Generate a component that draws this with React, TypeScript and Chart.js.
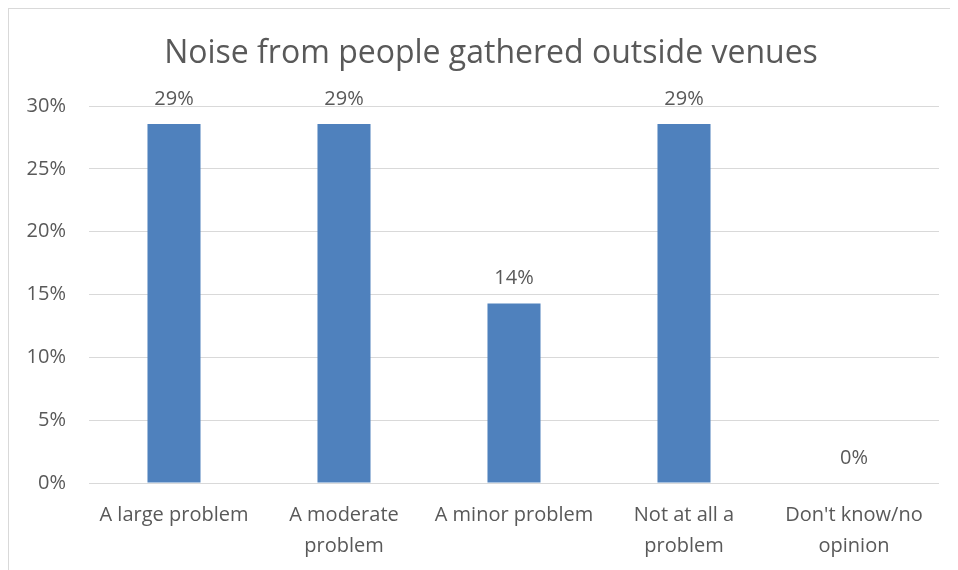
import React, { useEffect, useRef } from "react";
import { Chart, registerables } from "chart.js";

Chart.register(...registerables);

const title = "Noise from people gathered outside venues";
const categories: (string | string[])[] = [
  "A large problem",
  ["A moderate", "problem"],
  "A minor problem",
  ["Not at all a", "problem"],
  ["Don't know/no", "opinion"],
];
const values = [28.57, 28.57, 14.29, 28.57, 0];
const valueLabels = ["29%", "29%", "14%", "29%", "0%"];
const yTicks = [0, 5, 10, 15, 20, 25, 30];

const FONT = "'Open Sans', sans-serif";
const TEXT = "#595959";
const GRID = "#d9d9d9";
const BAR = "#4f81bd";

const dataLabelPlugin = {
  id: "dataLabels",
  afterDatasetsDraw(chart: any) {
    const ctx = chart.ctx;
    const meta = chart.getDatasetMeta(0);
    ctx.save();
    ctx.font = `20px ${FONT}`;
    ctx.fillStyle = TEXT;
    ctx.textAlign = "center";
    ctx.textBaseline = "alphabetic";
    meta.data.forEach((el: any, i: number) => {
      ctx.fillText(valueLabels[i], el.x, el.y - 19);
    });
    ctx.restore();
  },
};

const titlePlugin = {
  id: "customTitle",
  afterDraw(chart: any) {
    const ctx = chart.ctx;
    ctx.save();
    ctx.font = `32px ${FONT}`;
    ctx.fillStyle = TEXT;
    ctx.textAlign = "center";
    ctx.textBaseline = "middle";
    ctx.fillText(title, 482, 45);
    ctx.restore();
  },
};

export default function App() {
  const ref = useRef<HTMLCanvasElement>(null);
  useEffect(() => {
    if (!ref.current) return;
    const chart = new Chart(ref.current, {
      type: "bar",
      data: {
        labels: categories,
        datasets: [
          {
            data: values,
            backgroundColor: BAR,
            barPercentage: 0.312,
            categoryPercentage: 1,
          },
        ],
      },
      options: {
        responsive: false,
        animation: false,
        devicePixelRatio: 1,
        layout: { padding: { left: 0, right: 19, top: 97, bottom: 0 } },
        plugins: {
          legend: { display: false },
          tooltip: { enabled: false },
          title: { display: false },
        },
        scales: {
          x: {
            grid: { display: false },
            border: { display: false },
            ticks: {
              color: TEXT,
              font: { family: FONT, size: 20, lineHeight: 1.55 },
              padding: 9,
              maxRotation: 0,
              autoSkip: false,
            },
            afterFit(scale: any) {
              scale.height = 87;
            },
          },
          y: {
            min: 0,
            max: 30,
            afterBuildTicks(scale: any) {
              scale.ticks = yTicks.map((v) => ({ value: v }));
            },
            grid: { color: GRID, drawTicks: false, lineWidth: 1 },
            border: { display: false },
            ticks: {
              color: TEXT,
              font: { family: FONT, size: 20 },
              padding: 23,
              callback: (v: any) => `${v}%`,
            },
            afterFit(scale: any) {
              scale.width = 80;
            },
          },
        },
      },
      plugins: [dataLabelPlugin, titlePlugin],
    });
    return () => chart.destroy();
  }, []);
  return (
    <div
      style={{
        width: 960,
        height: 570,
        borderTop: `1px solid ${GRID}`,
        borderLeft: `1px solid ${GRID}`,
        boxSizing: "border-box",
      }}
    >
      <canvas ref={ref} width={949} height={561} />
    </div>
  );
}
